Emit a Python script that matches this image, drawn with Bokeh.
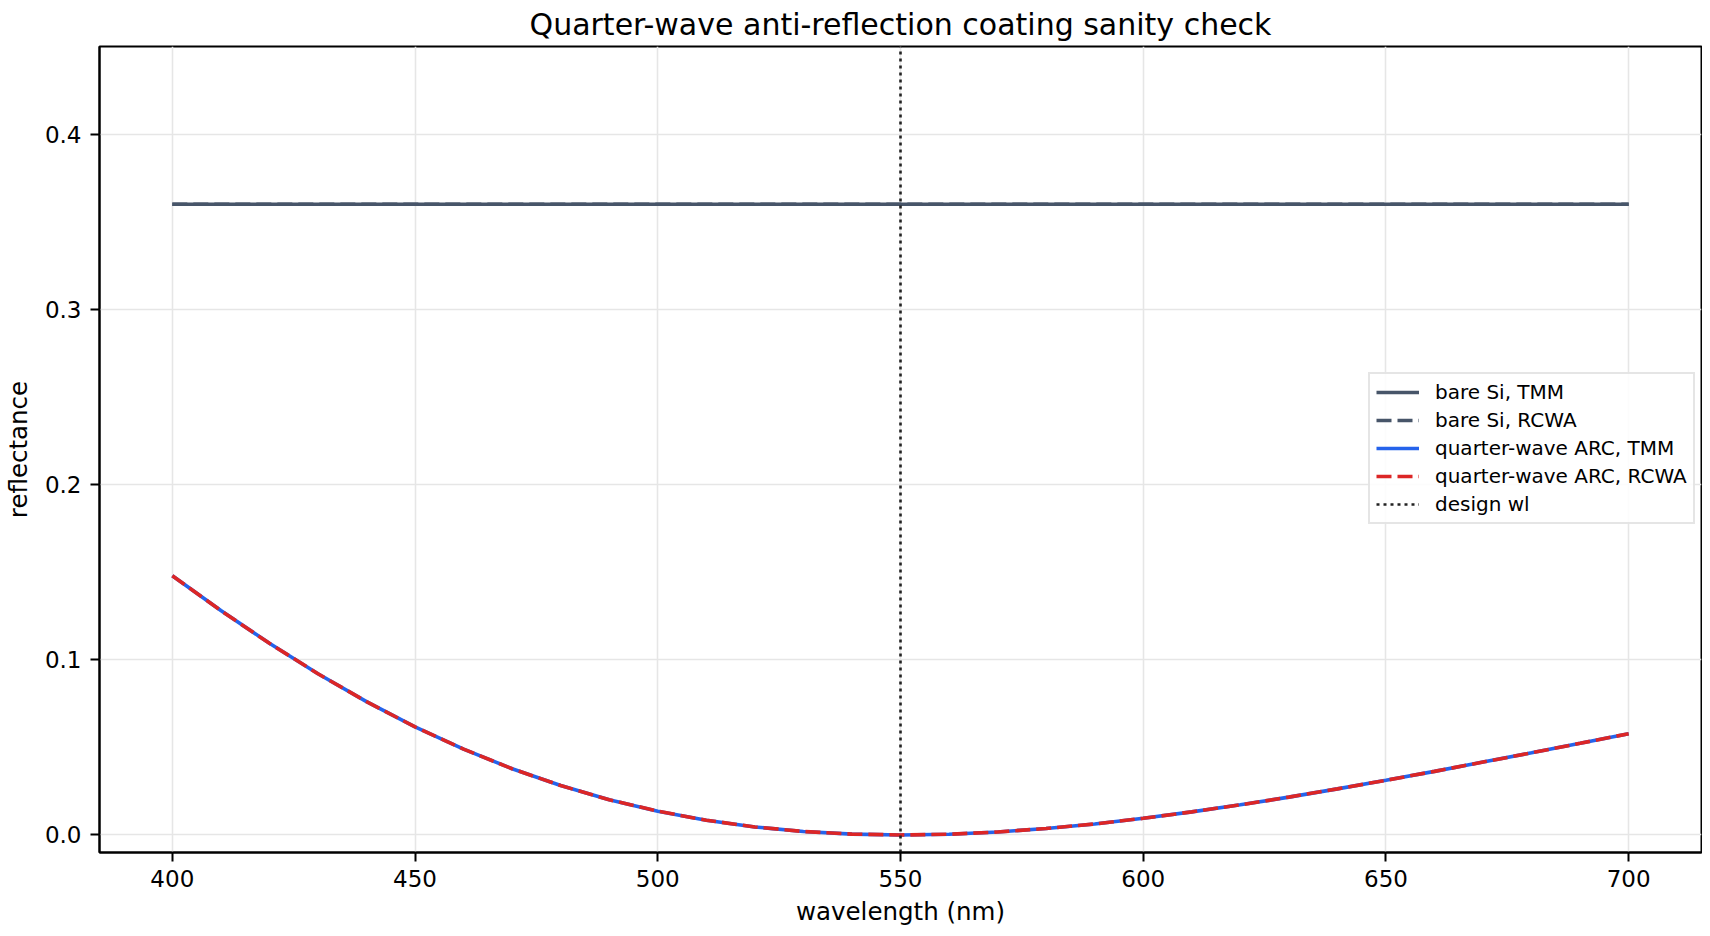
from bokeh.plotting import figure
from bokeh.models import Range1d, FixedTicker, Legend, LegendItem
from bokeh.embed import file_html
from bokeh.resources import INLINE

# data
wavelength_nm = [400, 410, 420, 430, 440, 450, 460, 470, 480, 490,
                 500, 510, 520, 530, 540, 550, 560, 570, 580, 590,
                 600, 610, 620, 630, 640, 650, 660, 670, 680, 690, 700]
bare_si_tmm = [0.36] * len(wavelength_nm)
bare_si_rcwa = [0.36] * len(wavelength_nm)
arc_tmm = [0.1479, 0.1281, 0.1094, 0.0920, 0.0761, 0.0617, 0.0490, 0.0378,
           0.0282, 0.0201, 0.0136, 0.0084, 0.0046, 0.0020, 0.0005, 0.0000,
           0.0004, 0.0017, 0.0037, 0.0063, 0.0095, 0.0132, 0.0172, 0.0216,
           0.0263, 0.0312, 0.0363, 0.0416, 0.0469, 0.0523, 0.0578]
arc_rcwa = list(arc_tmm)
design_wl = 550

x_lim = (385, 715)
y_lim = (-0.01, 0.45)
x_ticks = [400, 450, 500, 550, 600, 650, 700]
y_ticks = [0.0, 0.1, 0.2, 0.3, 0.4]
y_tick_labels = ["0.0", "0.1", "0.2", "0.3", "0.4"]

FONT = "DejaVu Sans"

p = figure(width=1702, height=928, output_backend="svg", toolbar_location=None,
           x_range=Range1d(*x_lim), y_range=Range1d(*y_lim),
           title="Quarter-wave anti-reflection coating sanity check",
           min_border_left=95, min_border_right=1, min_border_top=46, min_border_bottom=75)

p.title.text_font = FONT
p.title.text_font_size = "30px"
p.title.text_font_style = "normal"
p.title.align = "center"
p.title.text_color = "black"
p.title.standoff = 9

p.outline_line_color = "black"
p.outline_line_width = 2
p.outline_line_alpha = 1.0

for ax in (p.xaxis, p.yaxis):
    ax.axis_line_color = "black"
    ax.axis_line_width = 2
    ax.major_tick_line_color = "black"
    ax.major_tick_line_width = 2
    ax.major_tick_out = 9
    ax.major_tick_in = 0
    ax.minor_tick_line_color = None
    ax.major_label_text_font = FONT
    ax.major_label_text_font_size = "23px"
    ax.major_label_text_color = "black"
    ax.axis_label_text_font = FONT
    ax.axis_label_text_font_size = "24.5px"
    ax.axis_label_text_font_style = "normal"
    ax.axis_label_text_color = "black"

p.xaxis.major_label_standoff = 8
p.xaxis.axis_label_standoff = 7
p.yaxis.major_label_standoff = 9
p.yaxis.axis_label_standoff = 9

p.xaxis.ticker = FixedTicker(ticks=x_ticks)
p.yaxis.ticker = FixedTicker(ticks=y_ticks)
p.yaxis.major_label_overrides = dict(zip(y_ticks, y_tick_labels))
p.xaxis.axis_label = "wavelength (nm)"
p.yaxis.axis_label = "reflectance"

p.grid.grid_line_color = "#e6e6e6"
p.grid.grid_line_width = 1.6

slate = "#475569"
r1 = p.line(wavelength_nm, bare_si_tmm, line_color=slate, line_width=3.6)
r2 = p.line(wavelength_nm, bare_si_rcwa, line_color=slate, line_width=3.6, line_dash="15 6")
r3 = p.line(wavelength_nm, arc_tmm, line_color="#2563eb", line_width=3.6)
r4 = p.line(wavelength_nm, arc_rcwa, line_color="#dc2626", line_width=3.6, line_dash="15 6")
r5 = p.segment(x0=[design_wl], x1=[design_wl], y0=[y_lim[0]], y1=[y_lim[1]],
               line_color="#222222", line_width=2.6, line_dash="3 4")

legend = Legend(items=[
    LegendItem(label="bare Si, TMM", renderers=[r1]),
    LegendItem(label="bare Si, RCWA", renderers=[r2]),
    LegendItem(label="quarter-wave ARC, TMM", renderers=[r3]),
    LegendItem(label="quarter-wave ARC, RCWA", renderers=[r4]),
    LegendItem(label="design wl", renderers=[r5]),
], location=(1269, 328))
legend.label_text_font = FONT
legend.label_text_font_size = "20px"
legend.label_text_color = "black"
legend.glyph_width = 43
legend.glyph_height = 22
legend.label_height = 22
legend.spacing = 4
legend.padding = 6
legend.margin = 0
legend.label_standoff = 16
legend.border_line_color = "#cccccc"
legend.border_line_width = 2
legend.background_fill_alpha = 0.85
p.add_layout(legend)

open("out.html", "w").write(file_html(p, INLINE))
